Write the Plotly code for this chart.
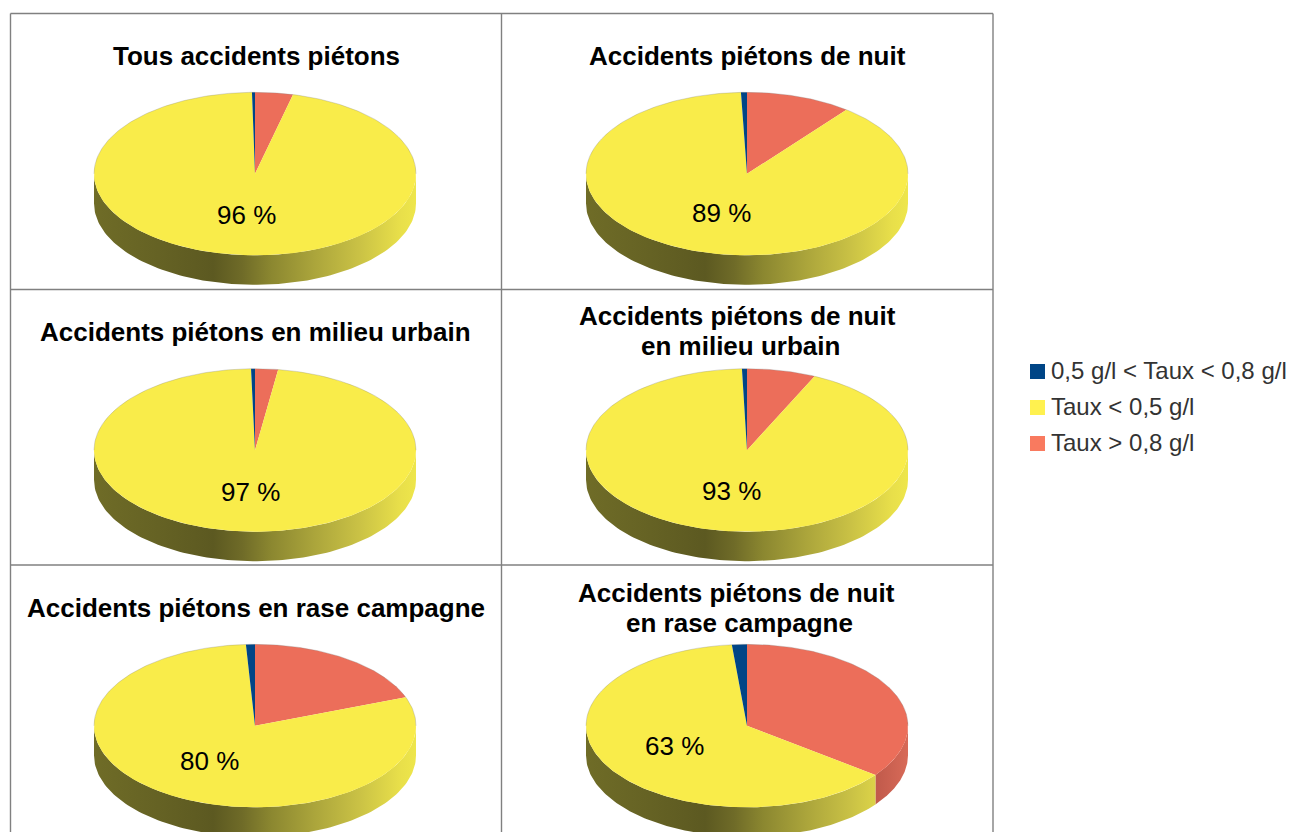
import numpy as np
import plotly.graph_objects as go

# ---- data (percent of accidents) ----
pie_titles = [
    ["Tous accidents piétons"], ["Accidents piétons de nuit"],
    ["Accidents piétons en milieu urbain"], ["Accidents piétons de nuit", "en milieu urbain"],
    ["Accidents piétons en rase campagne"], ["Accidents piétons de nuit", "en rase campagne"],
]
legend_labels = ["0,5 g/l < Taux < 0,8 g/l", "Taux < 0,5 g/l", "Taux > 0,8 g/l"]
share_mid = [0.3, 0.6, 0.4, 0.5, 0.9, 1.5]         # 0.5 < taux < 0.8
share_low = [95.9, 88.8, 97.3, 92.6, 79.8, 63.2]   # taux < 0.5
share_high = [3.8, 10.6, 2.3, 6.9, 19.3, 35.3]     # taux > 0.8

# ---- layout ----
W, H = 1291, 832
col_x = [255, 747]
row_y = [173.8, 450.2, 725.8]
RX, RY, DEPTH = 161, 81.5, 29.5
grid_x = [10.5, 501.5, 993]
grid_y = [13.5, 289.5, 565, 840]
title_x = [256, 747, 255, 737, 256, 736]
title_y = [56, 56, 332, 316, 608, 593]
second_line_x = [None, None, None, 740, None, 739.5]
LINE_GAP = 29.5

C_MID, C_LOW, C_HIGH = "#004586", "#f9ec4a", "#ec6e5a"
LEG_COLORS = ["#004586", "#fff14f", "#f97a5f"]
LOW_SIDE = [[0, "#6f6c27"], [0.2, "#656224"], [0.37, "#5c5921"], [0.46, "#6f6b28"], [0.55, "#8b8730"],
            [0.68, "#aaa43b"], [0.82, "#c9c145"], [0.95, "#e8df4a"], [1, "#eee64b"]]
HIGH_SIDE = [[0, "#8a4034"], [0.5, "#a04c3e"], [0.9, "#c05a4b"], [1, "#d86a58"]]


def pt(cx, cy, a, r=1.0):
    """Clockwise angle from 12 o'clock, in degrees, to page position."""
    t = np.radians(a)
    return cx + r * RX * np.sin(t), cy - r * RY * np.cos(t)


fig = go.Figure()
tops, annos = [], []
for i in range(6):
    cx, cy = col_x[i % 2], row_y[i // 2]
    a_high = share_high[i] * 3.6
    a_low = a_high + share_low[i] * 3.6
    slices = [(0, a_high, C_HIGH, "high"), (a_high, a_low, C_LOW, "low"), (a_low, 360, C_MID, "mid")]
    for a0, a1, color, kind in slices:
        # side wall: only the part of the slice on the front half of the disc
        s0, s1 = max(a0, 90), min(a1, 270)
        if s1 > s0 and kind != "mid":
            ang = np.linspace(s0, s1, 120)
            xs, ys = pt(cx, cy, ang)
            fig.add_trace(go.Scatter(
                x=np.r_[xs, xs[::-1]], y=np.r_[ys, ys[::-1] + DEPTH], mode="lines",
                line=dict(width=0), fill="toself", hoverinfo="skip", showlegend=False,
                fillgradient=dict(type="horizontal", start=cx - RX, stop=cx + RX,
                                  colorscale=LOW_SIDE if kind == "low" else HIGH_SIDE)))
        # top face
        ang = np.linspace(a0, a1, 240)
        xs, ys = pt(cx, cy, ang)
        tops.append(go.Scatter(
            x=np.r_[cx, xs, cx], y=np.r_[cy, ys, cy], mode="lines", line=dict(width=0),
            fill="toself", fillcolor=color, hoverinfo="skip", showlegend=False))
    # thin rim on the back of the disc
    ang = np.linspace(-90, 90, 200)
    xs, ys = pt(cx, cy, ang)
    tops.append(go.Scatter(x=xs, y=ys, mode="lines", line=dict(width=0.6, color="rgba(130,130,130,0.5)"),
                           hoverinfo="skip", showlegend=False))
    # percentage label at the middle of the yellow slice
    lx, ly = pt(cx, cy, (a_high + a_low) / 2, 0.525)
    annos.append(dict(x=lx + 1, y=ly - 1, text=f"{round(share_low[i])} %", showarrow=False, xanchor="center",
                      yanchor="middle", font=dict(size=26, color="#000000")))
    for j, line in enumerate(pie_titles[i]):
        tx = title_x[i] if j == 0 else second_line_x[i]
        annos.append(dict(x=tx, y=title_y[i] + j * LINE_GAP, text=f"<b>{line}</b>",
                          showarrow=False, xanchor="center", yanchor="middle",
                          font=dict(size=26, color="#000000")))
fig.add_traces(tops)

# legend
for k, (lab, col) in enumerate(zip(legend_labels, LEG_COLORS)):
    fig.add_trace(go.Scatter(x=[1037.5], y=[371.5 + 36 * k], mode="markers",
                             marker=dict(symbol="square", size=15, color=col, line=dict(width=0)),
                             hoverinfo="skip", showlegend=False, cliponaxis=False))
    annos.append(dict(x=1051, y=370 + 36 * k, text=lab, showarrow=False, xanchor="left", yanchor="middle",
                      borderpad=0, borderwidth=0, font=dict(size=24, color="#333333")))

shapes = []
for gx in grid_x:
    shapes.append(dict(type="line", x0=gx, x1=gx, y0=grid_y[0], y1=grid_y[-1],
                       line=dict(color="#808080", width=1.4)))
for gy in grid_y[:-1]:
    shapes.append(dict(type="line", x0=grid_x[0], x1=grid_x[-1], y0=gy, y1=gy,
                       line=dict(color="#808080", width=1.4)))

fig.update_layout(
    width=W, height=H, margin=dict(l=0, r=0, t=0, b=0), paper_bgcolor="white", plot_bgcolor="white",
    font=dict(family="Liberation Sans"), showlegend=False, shapes=shapes, annotations=annos,
    xaxis=dict(range=[0, W], visible=False, fixedrange=True),
    yaxis=dict(range=[H, 0], visible=False, fixedrange=True),
)
fig.write_html("out.html", config={"displayModeBar": False},
               post_script="document.body.style.margin='0';document.body.style.overflow='hidden';")
